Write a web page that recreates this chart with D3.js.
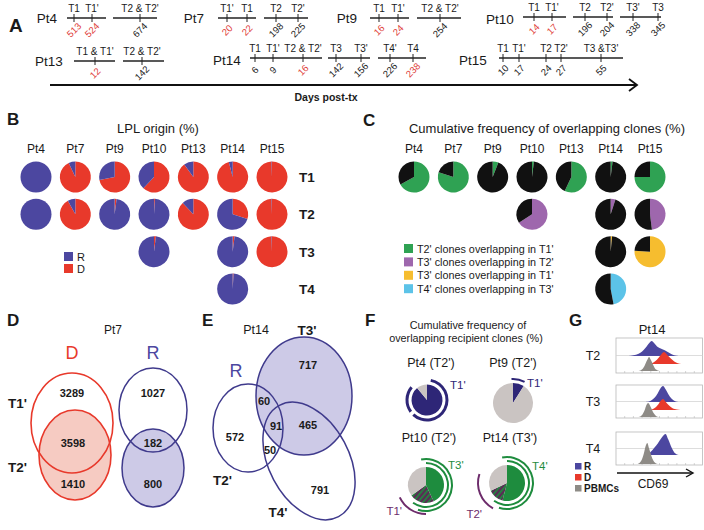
<!DOCTYPE html>
<html><head><meta charset="utf-8">
<script src="https://cdn.jsdelivr.net/npm/d3@7"></script>
<style>
body{margin:0;background:#fff}
svg{display:block}
text{font-family:"Liberation Sans",Arial,Helvetica,sans-serif}
</style>
</head><body>
<svg id="c" width="704" height="530"></svg>
<script>
// ================= DATA =================
// Panel A: sampling days post-transplant
const timelinePatients = ["Pt4","Pt7","Pt9","Pt10","Pt13","Pt14","Pt15"];
const timelineLabels = [
  [["T1","T1'"],["T2 & T2'"]],
  [["T1'","T1"],["T2","T2'"]],
  [["T1","T1'"],["T2 & T2'"]],
  [["T1","T1'"],["T2","T2'"],["T3'","T3"]],
  [["T1 & T1'"],["T2 & T2'"]],
  [["T1","T1'","T2 & T2'"],["T3","T3'"],["T4'","T4"]],
  [["T1","T1'","T2","T2'","T3 &T3'"]]
];
const timelineDays = [
  [[513,524],[674]],
  [[20,22],[198,225]],
  [[16,24],[254]],
  [[14,17],[196,204],[338,345]],
  [[12],[142]],
  [[6,9,16],[142,156],[226,238]],
  [[10,17,24,27,55]]
];
const timelineDonorDominant = [
  [[1,1],[0]],
  [[1,1],[0,0]],
  [[1,1],[0]],
  [[1,1],[0,0],[0,0]],
  [[1],[0]],
  [[0,0,1],[0,0],[0,1]],
  [[0,0,0,0,0]]
];

// Panel B: LPL origin, % donor (D); remainder recipient (R)
const bPatients = ["Pt4","Pt7","Pt9","Pt10","Pt13","Pt14","Pt15"];
const bTimes = ["T1","T2","T3","T4"];
const bDonorT1 = [0, 93, 72, 62, 90, 96, 99.5];
const bDonorT2 = [0, 92, 2, 1, 88, 30, 99.5];
const bDonorT3 = [null, null, null, 2, null, 2, 99.5];
const bDonorT4 = [null, null, null, null, null, 1, null];

// Panel C: cumulative frequency of overlapping clones (%)
const cSeries = ["T2' clones overlapping in T1'","T3' clones overlapping in T2'","T3' clones overlapping in T1'","T4' clones overlapping in T3'"];
const cT2inT1 = [67, 80, 6, 2, 57, 2, 75];
const cT3inT2 = [null, null, null, 66, null, 5, 48];
const cT3inT1 = [null, null, null, null, null, 1.5, 76];
const cT4inT3 = [null, null, null, null, null, 47, null];

// Panel D: Pt7 clone counts
const dDonor = [3289, 3598, 1410];     // T1' only, shared, T2' only
const dRecipient = [1027, 182, 800];

// Panel E: Pt14 recipient clone counts
const eLabels = ["T3' only","T2'∩T3'","T2'∩T3'∩T4'","T3'∩T4'","T2'∩T4'","T4' only","T2' only"];
const eCounts = [717, 60, 91, 465, 50, 791, 572];

// Panel F: cumulative frequency of overlapping recipient clones (%)
const fPt4 = [89, 11];          // overlapping in T1', other
const fPt9 = [9, 91];
const fPt10 = [43, 22, 35];     // overlapping T3', overlapping T3' & T1', other
const fPt14 = [54, 14, 32];     // overlapping T4', overlapping T4' & T2', other

// Panel G: CD69 histograms (Pt14), x = CD69 (0-100), y = relative count
const gT2R_x = [14,20,26,30,34,38,41,44,48,52,56,60,64,68,72];
const gT2R_y = [0,0.05,0.15,0.3,0.55,0.85,1,0.85,0.6,0.48,0.38,0.25,0.12,0.04,0];
const gT2D_x = [38,43,47,51,55,59,63,67,71,75];
const gT2D_y = [0,0.12,0.35,0.7,1,0.75,0.45,0.2,0.06,0];
const gT2P_x = [26,30,33,36,38,40,43,46,50];
const gT2P_y = [0,0.12,0.4,0.8,1,0.8,0.4,0.1,0];
const gT3R_x = [34,40,44,48,51,54,57,60,64,68,72];
const gT3R_y = [0,0.08,0.25,0.55,0.85,1,0.8,0.5,0.2,0.05,0];
const gT3D_x = [38,44,48,51,54,57,61,65,70,74];
const gT3D_y = [0,0.15,0.45,0.8,1,0.75,0.4,0.15,0.04,0];
const gT3P_x = [26,30,33,35,37,40,43,46,49];
const gT3P_y = [0,0.15,0.5,0.85,1,0.7,0.3,0.08,0];
const gT4R_x = [36,40,44,48,52,55,57,60,64,68,72];
const gT4R_y = [0,0.15,0.35,0.55,0.8,0.95,1,0.75,0.35,0.08,0];
const gT4P_x = [25,29,32,34,36,38,41,44,48];
const gT4P_y = [0,0.15,0.5,0.85,1,0.75,0.35,0.1,0];

// ================= STYLE =================
const COL_R = "#4c47a0", COL_D = "#e8392b", COL_BLACK = "#111";
const COL_GREEN = "#2fa253", COL_PURPLE = "#9e67ad", COL_YELLOW = "#f6bd2f", COL_CYAN = "#5cc3e8";
const COL_NAVY = "#2e2677", COL_GRAY = "#cac4c2", COL_FGREEN = "#1e8c3e", COL_FPURPLE = "#6d2c6b";
const COL_PBMC = "#8e8b86";
const TXT = "#1a1a1a", RED_TXT = "#e0403a";

const svg = d3.select("#c");
svg.append("rect").attr("width",704).attr("height",530).attr("fill","#fff");
const defs = svg.append("defs");
const pat = defs.append("pattern").attr("id","hatch").attr("width",4).attr("height",4)
  .attr("patternUnits","userSpaceOnUse").attr("patternTransform","rotate(40)");
pat.append("rect").attr("width",4).attr("height",4).attr("fill","#5b2b55");
pat.append("rect").attr("width",1.6).attr("height",4).attr("fill",COL_FGREEN);

function T(g, x, y, s, o={}) {
  const t = g.append("text").attr("x",x).attr("y",y).text(s)
    .attr("font-size", o.size||11).attr("fill", o.fill||TXT)
    .attr("text-anchor", o.anchor||"middle");
  if (o.bold) t.attr("font-weight","bold");
  if (o.rot !== undefined) t.attr("transform",`rotate(${o.rot},${x},${y})`);
  if (o.db) t.attr("dominant-baseline", o.db);
  return t;
}

// panel letters
[["A",9,32,19],["B",7,125,17],["C",363,126,17],["D",7,326,17],["E",202,326,17],["F",365,326,17],["G",569,326,17]]
  .forEach(([s,x,y,sz]) => T(svg,x,y,s,{size:sz,bold:true,anchor:"start"}));

// ================= PANEL A =================
const aLayout = [
  {lx:47,  ly:23, y:18, segs:[{x:[67,106],t:[74,92]},{x:[113,157],t:[140]}]},
  {lx:194, ly:23, y:18, segs:[{x:[218,256],t:[227,247]},{x:[264,308],t:[276,298]}]},
  {lx:347, ly:23, y:18, segs:[{x:[370,409],t:[379,398]},{x:[417,461],t:[440]}]},
  {lx:500, ly:24, y:17, segs:[{x:[523,566],t:[534,552]},{x:[573,613],t:[585,607]},{x:[620,661],t:[633,658]}]},
  {lx:49,  ly:66, y:61, segs:[{x:[74,115],t:[95]},{x:[123,164],t:[142]}]},
  {lx:227, ly:65, y:58, segs:[{x:[250,322],t:[255,273,303]},{x:[328,370],t:[336,361]},{x:[378,426],t:[390,413]}]},
  {lx:473, ly:65, y:58, segs:[{x:[499,623],t:[503,519,546,561,601]}]}
];
const gA = svg.append("g");
timelinePatients.forEach((p,i) => {
  const L = aLayout[i];
  T(gA, L.lx, L.ly, p, {size:13.5});
  L.segs.forEach((sg,j) => {
    const days = timelineDays[i][j];
    const x = d3.scaleLinear().domain(days.length>1?days:[days[0],days[0]]).range(days.length>1?sg.t:[sg.t[0],sg.t[0]]);
    gA.append("line").attr("x1",sg.x[0]).attr("x2",sg.x[1]).attr("y1",L.y).attr("y2",L.y)
      .attr("stroke","#222").attr("stroke-width",1.4);
    days.forEach((d,k) => {
      const xx = x(d);
      gA.append("line").attr("x1",xx).attr("x2",xx).attr("y1",L.y-4).attr("y2",L.y+4)
        .attr("stroke","#222").attr("stroke-width",1);
      T(gA, xx, L.y-6, timelineLabels[i][j][k], {size:10});
      T(gA, xx, L.y+12, String(d), {size:9.5, rot:-45, db:"central",
        fill: timelineDonorDominant[i][j][k] ? RED_TXT : TXT});
    });
  });
});
gA.append("line").attr("x1",50).attr("x2",637).attr("y1",85).attr("y2",85).attr("stroke","#111").attr("stroke-width",1.8);
gA.append("path").attr("d","M629,79L637,85L629,91").attr("fill","none").attr("stroke","#111").attr("stroke-width",1.8);
T(gA, 326, 101, "Days post-tx", {size:10.5, bold:true});

// ================= PANEL B =================
const gB = svg.append("g");
const bx = d3.scalePoint().domain(bPatients).range([36,272]);
const by = d3.scalePoint().domain(bTimes).range([177,289]);
T(gB, 158, 133, "LPL origin (%)", {size:13});
bPatients.forEach(p => T(gB, bx(p), 153, p, {size:12}));
bTimes.forEach(t => T(gB, 307, by(t)+5, t, {size:13.5, bold:true}));
const pieGen = d3.pie().sort(null).value(d=>d);
const arcB = d3.arc().innerRadius(0).outerRadius(15.5);
[bDonorT1,bDonorT2,bDonorT3,bDonorT4].forEach((row,ri) => {
  row.forEach((v,ci) => {
    if (v === null) return;
    const g = gB.append("g").attr("transform",`translate(${bx(bPatients[ci])},${by(bTimes[ri])})`);
    g.selectAll("path").data(pieGen([v,100-v])).join("path")
      .attr("d",arcB).attr("fill",(d,k)=>k===0?COL_D:COL_R);
  });
});
[["R",COL_R,252],["D",COL_D,264]].forEach(([s,c,y]) => {
  gB.append("rect").attr("x",64).attr("y",y).attr("width",9).attr("height",9).attr("fill",c);
  T(gB, 77, y+8.5, s, {size:11, anchor:"start"});
});

// ================= PANEL C =================
const gC = svg.append("g");
const cx = d3.scalePoint().domain(bPatients).range([414,650]);
T(gC, 547, 133, "Cumulative frequency of overlapping clones (%)", {size:13});
bPatients.forEach(p => T(gC, cx(p), 153, p, {size:12}));
const cCols = [COL_GREEN, COL_PURPLE, COL_YELLOW, COL_CYAN];
[cT2inT1,cT3inT2,cT3inT1,cT4inT3].forEach((row,ri) => {
  row.forEach((v,ci) => {
    if (v === null) return;
    const g = gC.append("g").attr("transform",`translate(${cx(bPatients[ci])},${by(bTimes[ri])})`);
    g.selectAll("path").data(pieGen([v,100-v])).join("path")
      .attr("d",arcB).attr("fill",(d,k)=>k===0?cCols[ri]:COL_BLACK);
  });
});
cSeries.forEach((s,i) => {
  const y = 244 + i*13.4;
  gC.append("rect").attr("x",404).attr("y",y).attr("width",9).attr("height",9).attr("fill",cCols[i]);
  T(gC, 417, y+8.5, s, {size:10.8, anchor:"start"});
});

// ================= PANEL D =================
const gD = svg.append("g");
T(gD, 113, 334, "Pt7", {size:12});
T(gD, 72, 359, "D", {size:18, fill:COL_D});
T(gD, 153, 359, "R", {size:18, fill:COL_R});
T(gD, 8, 408, "T1'", {size:13.5, bold:true, anchor:"start"});
T(gD, 8, 472, "T2'", {size:13.5, bold:true, anchor:"start"});
gD.append("ellipse").attr("cx",75).attr("cy",455).attr("rx",36).attr("ry",45).attr("fill","#f6cbc2").attr("stroke",COL_D).attr("stroke-width",1.6);
gD.append("ellipse").attr("cx",72).attr("cy",423).attr("rx",41).attr("ry",50).attr("fill","none").attr("stroke",COL_D).attr("stroke-width",1.6);
gD.append("ellipse").attr("cx",153).attr("cy",468).attr("rx",31).attr("ry",39).attr("fill","#cdcae7").attr("stroke","#3f3a8c").attr("stroke-width",1.5);
gD.append("ellipse").attr("cx",153).attr("cy",410).attr("rx",34).attr("ry",42).attr("fill","none").attr("stroke","#3f3a8c").attr("stroke-width",1.5);
[[72,397],[73,447],[73,488]].forEach(([x,y],i)=>T(gD,x,y,String(dDonor[i]),{size:11,bold:true}));
[[153,397],[153,447],[153,488]].forEach(([x,y],i)=>T(gD,x,y,String(dRecipient[i]),{size:11,bold:true}));

// ================= PANEL E =================
const gE = svg.append("g");
T(gE, 256, 334, "Pt14", {size:12.5});
T(gE, 236, 377, "R", {size:18, fill:COL_R});
T(gE, 307, 335, "T3'", {size:13.5, bold:true});
T(gE, 213, 485, "T2'", {size:13.5, bold:true, anchor:"start"});
T(gE, 278, 517, "T4'", {size:13.5, bold:true});
gE.append("ellipse").attr("cx",304).attr("cy",396).attr("rx",48).attr("ry",59).attr("fill","#cdcae7").attr("stroke","#3f3a8c").attr("stroke-width",1.5);
gE.append("ellipse").attr("cx",248).attr("cy",428).attr("rx",35).attr("ry",44).attr("fill","none").attr("stroke","#3f3a8c").attr("stroke-width",1.5);
gE.append("ellipse").attr("cx",0).attr("cy",0).attr("rx",40).attr("ry",63)
  .attr("transform","translate(309,461) rotate(-28)").attr("fill","none").attr("stroke","#3f3a8c").attr("stroke-width",1.5);
const ePos = [[308,369],[264,405],[276,430],[308,429],[270,454],[320,494],[235,441]];
eCounts.forEach((v,i)=>T(gE, ePos[i][0], ePos[i][1], String(v), {size:11, bold:true}));

// ================= PANEL F =================
const gF = svg.append("g");
T(gF, 468, 329, "Cumulative frequency of", {size:10.8});
T(gF, 466, 342, "overlapping recipient clones (%)", {size:10.8});
T(gF, 431, 367, "Pt4 (T2')", {size:12.5});
T(gF, 513, 367, "Pt9 (T2')", {size:12.5});
T(gF, 429, 442, "Pt10 (T2')", {size:12.5});
T(gF, 510, 442, "Pt14 (T3')", {size:12.5});
const TAU = 2*Math.PI;
function ring(g, r0, r1, a0, a1, col) {
  g.append("path").attr("d", d3.arc().innerRadius(r0).outerRadius(r1).startAngle(a0*TAU).endAngle(a1*TAU)()).attr("fill",col);
}
function fPie(cxp, cyp, r, vals, cols) {
  const g = gF.append("g").attr("transform",`translate(${cxp},${cyp})`);
  g.selectAll("path.s").data(pieGen(vals)).join("path").attr("class","s")
    .attr("d", d3.arc().innerRadius(0).outerRadius(r)).attr("fill",(d,k)=>cols[k]);
  return g;
}
let g4 = fPie(427, 400, 15.5, fPt4, [COL_NAVY, COL_GRAY]);
ring(g4, 18.5, 21.5, 0.03, 0.62, COL_NAVY); ring(g4, 18.5, 21.5, 0.65, 0.86, COL_NAVY);
T(gF, 450, 389, "T1'", {size:11.5, fill:COL_NAVY, anchor:"start"});
let g9 = fPie(513, 403, 20, fPt9, [COL_NAVY, COL_GRAY]);
ring(g9, 23, 25, -0.01, 0.08, COL_NAVY);
T(gF, 527, 387, "T1'", {size:11.5, fill:COL_NAVY, anchor:"start"});
let g10 = fPie(426, 485, 18, fPt10, [COL_FGREEN, "url(#hatch)", COL_GRAY]);
ring(g10, 21, 23, 0, 0.6, COL_FGREEN); ring(g10, 25, 27, -0.03, 0.55, COL_FGREEN);
ring(g10, 28, 30, 0.5, 0.68, COL_FPURPLE);
T(gF, 448, 469, "T3'", {size:11.5, fill:COL_FGREEN, anchor:"start"});
T(gF, 402, 515, "T1'", {size:11.5, fill:COL_FPURPLE, anchor:"end"});
let g14 = fPie(507, 483, 18, fPt14, [COL_FGREEN, "url(#hatch)", COL_GRAY]);
ring(g14, 21, 23, 0, 0.6, COL_FGREEN); ring(g14, 25, 27, -0.03, 0.55, COL_FGREEN);
ring(g14, 28, 30, 0.58, 0.8, COL_FPURPLE);
T(gF, 532, 470, "T4'", {size:11.5, fill:COL_FGREEN, anchor:"start"});
T(gF, 482, 518, "T2'", {size:11.5, fill:COL_FPURPLE, anchor:"end"});

// ================= PANEL G =================
const gG = svg.append("g");
T(gG, 652, 334, "Pt14", {size:13});
const gx = d3.scaleLinear().domain([0,100]).range([616,703]);
const gRows = [
  {lab:"T2", top:338, bot:373, hists:[[gT2R_x,gT2R_y,356,15,COL_R],[gT2D_x,gT2D_y,364,12,COL_D],[gT2P_x,gT2P_y,371,14,COL_PBMC]]},
  {lab:"T3", top:385, bot:418, hists:[[gT3R_x,gT3R_y,402,16,COL_R],[gT3D_x,gT3D_y,410,11,COL_D],[gT3P_x,gT3P_y,417,14,COL_PBMC]]},
  {lab:"T4", top:432, bot:465, hists:[[gT4R_x,gT4R_y,455,21,COL_R],[gT4P_x,gT4P_y,464,21,COL_PBMC]]}
];
gRows.forEach(r => {
  T(gG, 593, (r.top+r.bot)/2+4, r.lab, {size:12.5});
  gG.append("rect").attr("x",gx(0)).attr("y",r.top).attr("width",gx(100)-gx(0)-0.5).attr("height",r.bot-r.top)
    .attr("fill","#fff").attr("stroke","#b8b8b8").attr("stroke-width",0.8);
  gG.append("line").attr("x1",gx(0)).attr("x2",gx(100)).attr("y1",(r.top+r.bot)/2).attr("y2",(r.top+r.bot)/2)
    .attr("stroke","#cfcfcf").attr("stroke-width",0.7);
  gG.selectAll(null).data(d3.range(10,100,10)).join("line")
    .attr("x1",d=>gx(d)).attr("x2",d=>gx(d)).attr("y1",r.bot).attr("y2",r.bot-2)
    .attr("stroke","#b8b8b8").attr("stroke-width",0.6);
  r.hists.forEach(([xs,ys,base,h,col]) => {
    const yS = d3.scaleLinear().domain([0,1]).range([base, base-h]);
    const area = d3.area().x((d,i)=>gx(xs[i])).y0(base).y1(d=>yS(d)).curve(d3.curveMonotoneX);
    gG.append("path").attr("d", area(ys)).attr("fill",col);
  });
});
gG.append("line").attr("x1",617).attr("x2",692).attr("y1",473).attr("y2",473).attr("stroke","#111").attr("stroke-width",1.4);
gG.append("path").attr("d","M686,469L693,473L686,477").attr("fill","none").attr("stroke","#111").attr("stroke-width",1.4);
T(gG, 653, 488, "CD69", {size:12});
[["R",COL_R],["D",COL_D],["PBMCs",COL_PBMC]].forEach(([s,c],i) => {
  const y = 463 + i*11;
  gG.append("rect").attr("x",575).attr("y",y).attr("width",6.5).attr("height",6.5).attr("fill",c);
  T(gG, 584, y+7, s, {size:10, bold:true, anchor:"start"});
});
</script>
</body></html>
